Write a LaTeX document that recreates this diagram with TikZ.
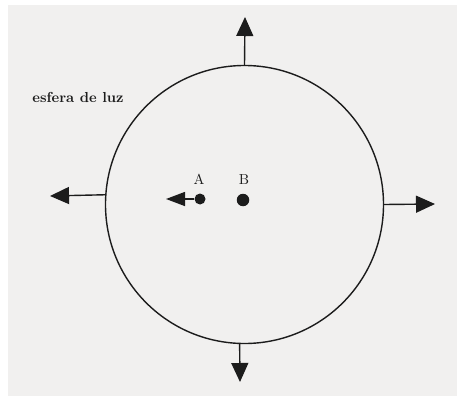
\documentclass[tikz,border=0pt]{standalone}
\usepackage{fontspec}
\usetikzlibrary{arrows.meta}
\definecolor{paper}{RGB}{241,240,239}
\definecolor{ink}{RGB}{28,28,28}
\begin{document}
\begin{tikzpicture}[x=1pt,y=-1pt,
  inkline/.style={draw=ink,line width=1.4pt},
  rayarrow/.style={inkline,-{Triangle[length=19pt,width=17pt]}},
  smallarrow/.style={inkline,-{Triangle[length=19pt,width=14pt]}},
  dotA/.style={circle,fill=ink,inner sep=0pt,minimum size=11pt},
  dotB/.style={circle,fill=ink,inner sep=0pt,minimum size=12.5pt},
  lbl/.style={text=ink,inner sep=0pt,scale=1.45},
  ptlbl/.style={text=ink,inner sep=0pt,scale=1.45}]
\useasboundingbox (0,0) rectangle (457,398);
\fill[white] (0,0) rectangle (457,398);
\fill[paper] (8,5) rectangle (457,396);
\node[inkline,circle,minimum size=278pt,inner sep=0pt] (sphere) at (244.5,204.5) {};
\coordinate (tipN) at (245,17);
\coordinate (tipS) at (240,382);
\coordinate (tipW) at (50,196);
\coordinate (tipE) at (435,204);
\draw[rayarrow] (sphere.90) -- (tipN);
\draw[rayarrow] (sphere.-92) -- (tipS);
\draw[rayarrow] (sphere.176.5) -- (tipW);
\draw[rayarrow] (sphere.0) -- (tipE);
\node[dotA] (A) at (200,199) {};
\node[dotB] (B) at (243,200) {};
\coordinate (tipA) at (166,199);
\draw[smallarrow] (A) -- (tipA);
\node[ptlbl] (labA) at (199,179) {A};
\node[ptlbl] (labB) at (244,180) {B};
\node[lbl] (esfera) at (78,97) {\bfseries esfera de luz};
\end{tikzpicture}
\end{document}
